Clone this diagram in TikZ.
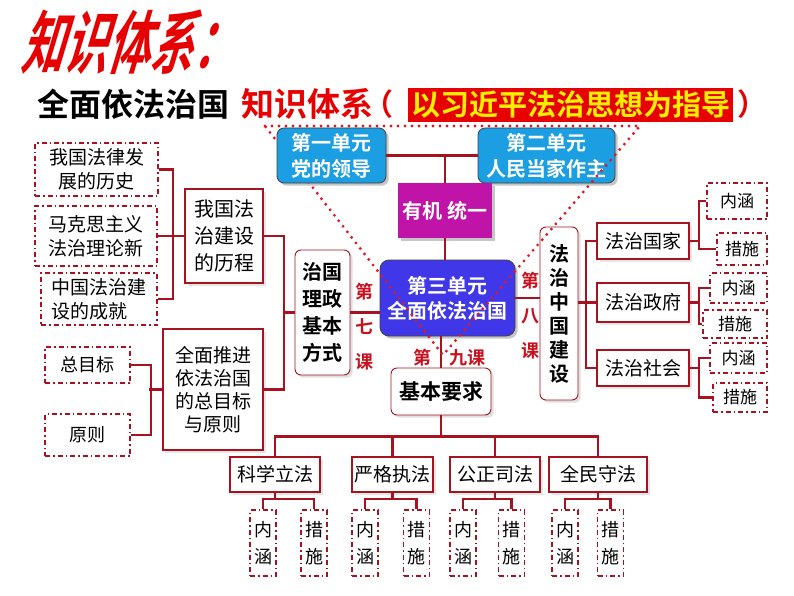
\documentclass[tikz,border=0pt]{standalone}
\usepackage{fontspec}
\setmainfont{Noto Sans CJK SC}[BoldFont={Noto Sans CJK SC Bold}]
\usetikzlibrary{shadows}
\definecolor{linkred}{RGB}{168,18,32}
\definecolor{lessonred}{RGB}{200,16,30}
\definecolor{dotred}{RGB}{220,24,36}
\definecolor{unitblue}{RGB}{27,158,226}
\definecolor{lawblue}{RGB}{64,56,232}
\definecolor{organic}{RGB}{192,20,168}
\definecolor{bannerred}{RGB}{230,0,0}
\definecolor{banneryellow}{RGB}{255,238,0}
\newcommand{\fs}[2]{\fontsize{#1}{#2}\selectfont}
\tikzset{%
  dims/.style 2 args = {minimum width=#1pt, minimum height=#2pt},%
  unit/.style     = {shape=rectangle, rounded corners=7pt, draw=black!75, line width=0.8pt,%
                     fill=unitblue, text=white, align=center, inner sep=0pt,%
                     font=\bfseries\fs{20}{26}, drop shadow={opacity=0.45}},%
  core/.style     = {unit, fill=lawblue, rounded corners=9pt, font=\bfseries\fs{20}{25}},%
  organ/.style    = {unit, rounded corners=0pt, draw=none, fill=organic},%
  topic/.style    = {shape=rectangle, rounded corners=6pt, draw=linkred, line width=0.9pt,%
                     fill=white, align=center, inner sep=0pt, font=\bfseries\fs{20}{27},%
                     drop shadow={opacity=0.25}},%
  item/.style     = {shape=rectangle, draw=linkred, line width=1.8pt, fill=white,%
                     align=center, inner sep=0pt, font=\fs{19}{24}, drop shadow={opacity=0.2}},%
  leaf/.style     = {shape=rectangle, draw=linkred, line width=1.6pt, align=center,%
                     inner sep=0pt, font=\fs{18}{24},%
                     dash pattern=on 5pt off 3pt on 1.5pt off 3pt},%
  lesson/.style   = {text=lessonred, align=center, inner sep=0pt, font=\bfseries\fs{18}{35}},%
  link/.style     = {draw=linkred, line width=2.6pt},%
  tridots/.style  = {draw=dotred, line width=3.2pt, line cap=round, dash pattern=on 0pt off 7pt}%
}

\begin{document}
\begin{tikzpicture}[x=1pt, y=-1pt]
  \useasboundingbox (0,0) rectangle (794,596);
  \begin{scope}[shift={(28,42)}]
    \node[anchor=west, inner sep=0pt, text=bannerred, font=\bfseries\fs{43}{43},
          xslant=0.3, yscale=1.6, transform shape] (head) at (0,0) {知识体系：};
  \end{scope}
  \node[anchor=west, inner sep=0pt, font=\bfseries\fs{32}{32}] (theme) at (37,104) {全面依法治国};
  \node[anchor=west, inner sep=0pt, text=bannerred, font=\bfseries\fs{33}{33}] (system) at (241,104) {知识体系};
  \node[inner sep=0pt, text=bannerred, font=\bfseries\fs{30}{30}] (lpar) at (378,104) {（};
  \node[inner sep=0pt, fill=bannerred, text=banneryellow, font=\bfseries\fs{29}{29},
        dims={325}{34}] (banner) at (570.5,105) {以习近平法治思想为指导};
  \node[inner sep=0pt, text=bannerred, font=\bfseries\fs{30}{30}] (rpar) at (752,104) {）};

  \node[unit, dims={137}{55}] (unit2) at (546.5,155.5) {第二单元\\人民当家作主};
  \node[organ, dims={94}{55}] (organ) at (445,210.5) {有机 统一};
  \node[core, dims={135}{76}] (unit3) at (447.5,298) {第三单元\\全面依法治国};
  \node[topic, dims={55}{125}] (mode) at (322.5,312.5) {治国\\理政\\基本\\方式};
  \node[topic, dims={38}{173}, font=\bfseries\fs{20}{24}] (china) at (559,313.5) {法\\治\\中\\国\\建\\设};
  \node[topic, dims={100}{47}, font=\bfseries\fs{21}{21}] (basic) at (441,391.5) {基本要求};
  \node[lesson] (l7) at (364,327) {第\\七\\课};
  \node[lesson] (l8) at (530,316) {第\\八\\课};
  \node[lesson] (l9) at (449,358) {第\hspace{1em}九课};

  \node[leaf, dims={123}{53}, font=\fs{19}{24}] (hist1) at (96.5,169.5) {我国法律发\\展的历史};
  \node[leaf, dims={122}{60}, font=\fs{19}{24}] (hist2) at (96,236) {马克思主义\\法治理论新};
  \node[leaf, dims={116}{52}, font=\fs{19}{24}, align=left] (hist3) at (99,299) {中国法治建\\设的成就};
  \node[item, dims={78}{94}, font=\fs{20}{27}] (course) at (224,236) {我国法\\治建设\\的历程};
  \node[item, dims={100}{121}, font=\fs{19}{23}] (goal) at (213,389.5) {全面推进\\依法治国\\的总目标\\与原则};
  \node[leaf, dims={85}{36}] (aim) at (87.5,365) {总目标};
  \node[leaf, dims={85}{42}] (rule) at (87.5,435) {原则};

  \node[item, dims={92}{36}] (state) at (643,241) {法治国家};
  \node[item, dims={92}{39}] (gov) at (643,302.5) {法治政府};
  \node[item, dims={92}{36}] (society) at (643,368) {法治社会};
  \node[leaf, dims={60}{36}, font=\fs{17}{17}] (in1) at (737,201) {内涵};
  \node[leaf, dims={50}{32}, font=\fs{17}{17}] (me1) at (742,249) {措施};
  \node[leaf, dims={57}{30}, font=\fs{17}{17}] (in2) at (738.5,288) {内涵};
  \node[leaf, dims={64}{28}, font=\fs{17}{17}] (me2) at (735,324) {措施};
  \node[leaf, dims={57}{30}, font=\fs{17}{17}] (in3) at (738.5,358) {内涵};
  \node[leaf, dims={54}{29}, font=\fs{17}{17}] (me3) at (740,397.5) {措施};

  \node[item, dims={90}{35}] (sci) at (275,474.5) {科学立法};
  \node[item, dims={81}{35}] (enf) at (392.5,474.5) {严格执法};
  \node[item, dims={90}{35}] (jus) at (495,474.5) {公正司法};
  \node[item, dims={98}{35}] (obey) at (598,474.5) {全民守法};
  \node[leaf, dims={26}{66}, font=\fs{18}{27}] (sci-in) at (263,543) {内\\涵};
  \node[leaf, dims={26}{66}, font=\fs{18}{27}] (sci-me) at (314,543) {措\\施};
  \node[leaf, dims={26}{66}, font=\fs{18}{27}] (enf-in) at (365,543) {内\\涵};
  \node[leaf, dims={26}{66}, font=\fs{18}{27}] (enf-me) at (416.5,543) {措\\施};
  \node[leaf, dims={26}{66}, font=\fs{18}{27}] (jus-in) at (463,543) {内\\涵};
  \node[leaf, dims={26}{66}, font=\fs{18}{27}] (jus-me) at (511.5,543) {措\\施};
  \node[leaf, dims={26}{66}, font=\fs{18}{27}] (obey-in) at (565,543) {内\\涵};
  \node[leaf, dims={26}{66}, font=\fs{18}{27}] (obey-me) at (610.5,543) {措\\施};

  \draw[link] (organ.north) -- (organ.north |- unit2.west);
  \draw[link] (organ.south) -- (organ.south |- unit3.north);
  \draw[link] (mode.east) -- (mode.east -| unit3.west);
  \draw[link] (unit3.east) -- (unit3.east -| china.west);
  \draw[link] (basic.north |- unit3.south) -- (basic.north);

  \draw[link] (hist1.east) -- ++(14,0) |- (hist3.east);
  \draw[link] (hist2.east) -- (course.west);
  \draw[link] (course.east) -- ++(20,0) |- (goal.east);
  \draw[link] (mode.west) -- ++(-12,0);
  \draw[link] (aim.east) -- ++(20,0) |- (rule.east);
  \draw[link] (goal.west) -- ++(-13,0);

  \draw[link] (china.east |- gov.west) -- (gov.west);
  \draw[link] (state.west) -- ++(-10,0) |- (society.west);
  \draw[link] (in1.west) -| ([xshift=9pt]state.east) |- (me1.west);
  \draw[link] (state.east) -- ++(9,0);
  \draw[link] (in2.west) -| ([xshift=9pt]gov.east) |- (me2.west);
  \draw[link] (gov.east) -- ++(9,0);
  \draw[link] (in3.west) -| ([xshift=9pt]society.east) |- (me3.west);
  \draw[link] (society.east) -- ++(9,0);

  \draw[link] (basic.south) -- ++(0,21) coordinate (bus);
  \draw[link] (sci.north) |- (bus) -| (obey.north);
  \draw[link] (enf.north) -- (enf.north |- bus);
  \draw[link] (jus.north) -- (jus.north |- bus);
  \draw[link] (sci-in.north) |- ([yshift=-6pt]sci.south) -| (sci-me.north);
  \draw[link] (sci.south) -- ++(0,6);
  \draw[link] (enf-in.north) |- ([yshift=-6pt]enf.south) -| (enf-me.north);
  \draw[link] (enf.south) -- ++(0,6);
  \draw[link] (jus-in.north) |- ([yshift=-6pt]jus.south) -| (jus-me.north);
  \draw[link] (jus.south) -- ++(0,6);
  \draw[link] (obey-in.north) |- ([yshift=-6pt]obey.south) -| (obey-me.north);
  \draw[link] (obey.south) -- ++(0,6);

  \coordinate (tl) at (265,126);
  \coordinate (tr) at (640,126);
  \coordinate (tb) at (443,355);
  \draw[tridots] (tl) -- (tr) -- (tb) -- cycle;

  \node[unit, dims={109}{55}] (unit1) at (331.5,155.5) {第一单元\\党的领导};
  \draw[link] (unit1.east) -- (unit2.west);
\end{tikzpicture}
\end{document}
